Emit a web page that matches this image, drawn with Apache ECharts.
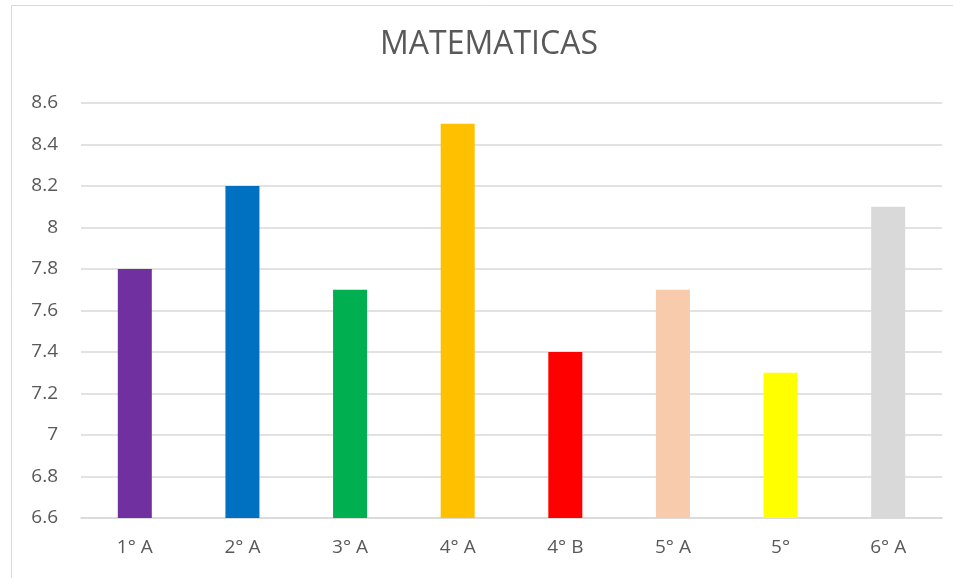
<!DOCTYPE html>
<html><head><meta charset="utf-8">
<script src="https://cdn.jsdelivr.net/npm/echarts@6/dist/echarts.min.js"></script>
<style>html,body{margin:0;padding:0;background:#fff}#c{width:953px;height:578px}</style>
</head><body><div id="c"></div>
<script>
const categories = ['1° A','2° A','3° A','4° A','4° B','5° A','5°','6° A'];
const values = [7.8, 8.2, 7.7, 8.5, 7.4, 7.7, 7.3, 8.1];
const barColors = ['#7030A0','#0070C0','#00B050','#FFC000','#FF0000','#F8CBAD','#FFFF00','#D9D9D9'];
const yMin = 6.6, yMax = 8.6, yStep = 0.2;
const titleText = 'MATEMATICAS';

const chart = echarts.init(document.getElementById('c'));
chart.setOption({
  animation: false,
  backgroundColor: '#fff',
  graphic: [{type:'rect', shape:{x:11.5,y:5.5,width:1000,height:700}, style:{fill:'none', stroke:'#d9d9d9', lineWidth:1}, silent:true}],
  title: {text: titleText, left: 380, top: 29, padding: 0, textStyle:{fontFamily:'Open Sans', fontSize:32, fontWeight:'normal', color:'#595959'}},
  grid: {left: 81, right: 11, top: 103, bottom: 60, containLabel: false},
  xAxis: {type:'category', data: categories,
    axisLine:{lineStyle:{color:'#d9d9d9', width:1.5}}, axisTick:{show:false},
    axisLabel:{color:'#595959', fontFamily:'Open Sans', fontSize:19, margin:20}},
  yAxis: {type:'value', min:yMin, max:yMax, interval:yStep,
    axisLine:{show:false}, axisTick:{show:false},
    splitLine:{lineStyle:{color:'#d9d9d9', width:1.5}},
    axisLabel:{color:'#595959', fontFamily:'Open Sans', fontSize:19, margin:23,
      formatter: v => String(Math.round(v*10)/10)}},
  series: [{type:'bar', barWidth:34,
    data: values.map((v,i)=>({value:v, itemStyle:{color:barColors[i]}}))}]
});
</script></body></html>
